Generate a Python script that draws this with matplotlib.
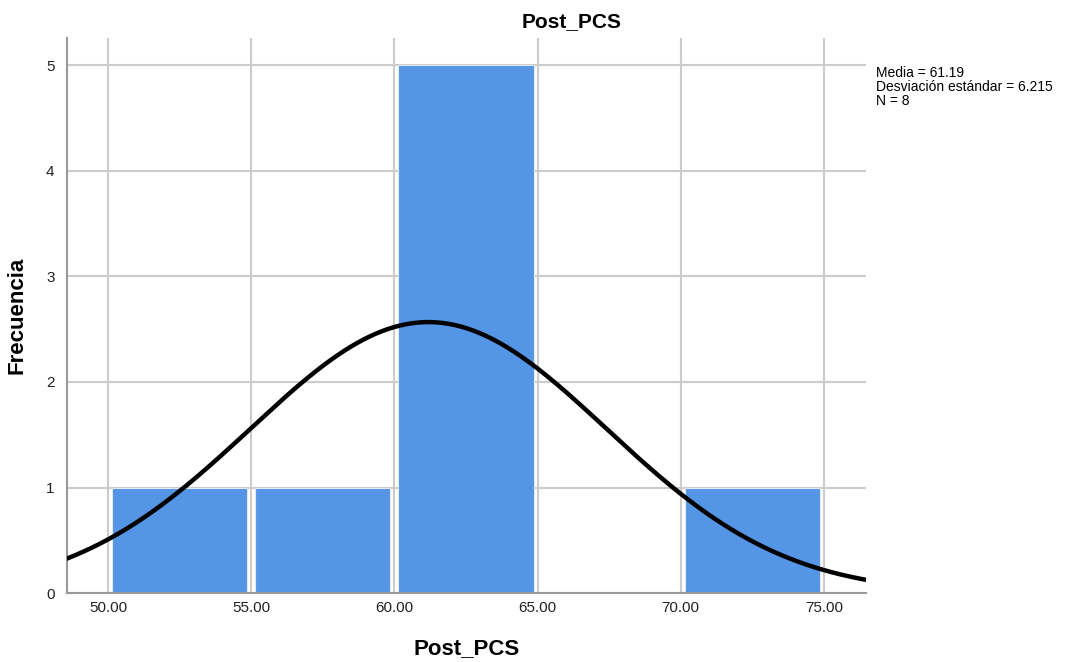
import matplotlib
matplotlib.use("Agg")
import matplotlib.pyplot as plt
import numpy as np

plt.rcParams["font.family"] = ["Liberation Sans", "DejaVu Sans"]

# ── datos ─────────────────────────────────────────────────────────────────────
bin_edges = [50.0, 55.0, 60.0, 65.0, 70.0, 75.0]
counts = [1, 1, 5, 0, 1]
media = 61.19
desv = 6.215
n = 8
x_ticks = [50, 55, 60, 65, 70, 75]
y_ticks = [0, 1, 2, 3, 4, 5]

BAR_COLOR = "#5595e5"
GRID_COLOR = "#cccccc"
GAP = 0.14   # hueco entre barras (unidades de x)

fig = plt.figure(figsize=(10.71, 6.62), dpi=100)
ax = fig.add_axes([0.0626, 0.1042, 0.746, 0.8384])

widths = np.diff(bin_edges)
ax.bar(np.array(bin_edges[:-1]) + GAP, counts, width=widths - 2 * GAP,
       align="edge", color=BAR_COLOR, edgecolor="#dfe9f7", linewidth=0.8,
       zorder=2)

# curva normal ajustada
xs = np.linspace(48.0, 77.0, 400)
bw = widths[0]
ys = n * bw / (desv * np.sqrt(2 * np.pi)) * np.exp(-0.5 * ((xs - media) / desv) ** 2)
ax.plot(xs, ys, color="black", linewidth=3.2, zorder=3)

ax.set_xlim(48.57, 76.47)
ax.set_ylim(0, 5.26)
ax.set_xticks(x_ticks)
ax.set_xticklabels([f"{v:.2f}" for v in x_ticks])
ax.set_yticks(y_ticks)
ax.tick_params(axis="x", length=0, labelsize=11, colors="#222222", pad=6)
ax.tick_params(axis="y", length=0, labelsize=11, colors="#222222", pad=9)
ax.grid(True, color=GRID_COLOR, linewidth=1.5, zorder=0)
ax.set_axisbelow(True)
for s in ("top", "right"):
    ax.spines[s].set_visible(False)
for s in ("left", "bottom"):
    ax.spines[s].set_color("#999999")
    ax.spines[s].set_linewidth(1.5)

fig.text(0.534, 0.968, "Post_PCS", fontsize=15, fontweight="bold",
         ha="center", va="center")
ax.set_xlabel("Post_PCS", fontsize=16, fontweight="bold", labelpad=16)
ax.set_ylabel("Frecuencia", fontsize=16, fontweight="bold", labelpad=13)

fig.text(0.818, 0.9,
         f"Media = {media:.2f}\nDesviación estándar = {desv:.3f}\nN = {n}",
         fontsize=10, va="top", ha="left", linespacing=1.0)

fig.savefig("out.png", dpi=100)
